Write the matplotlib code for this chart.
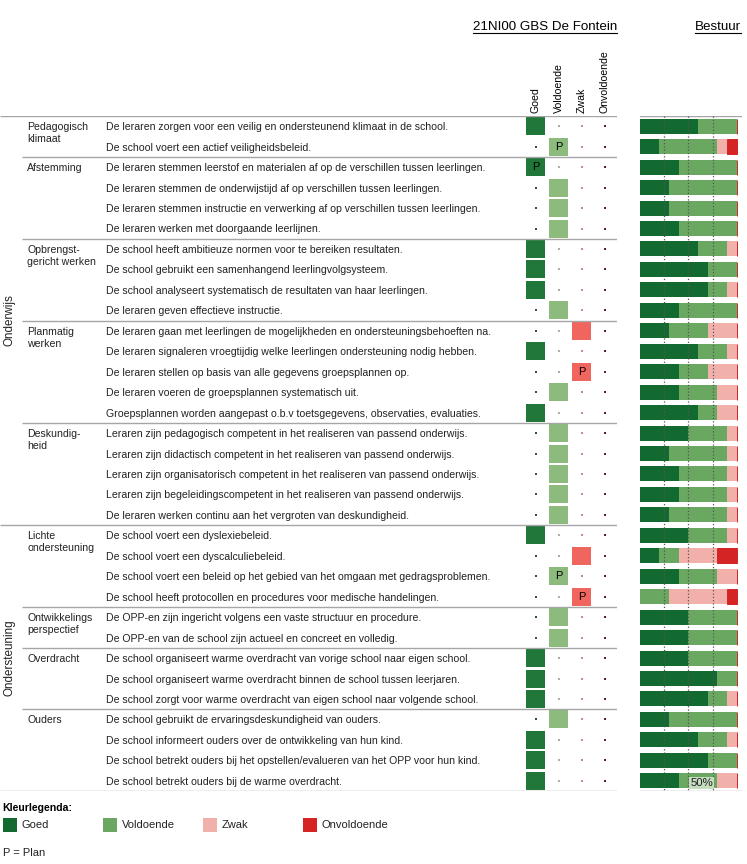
import numpy as np
import matplotlib.pyplot as plt
from matplotlib.patches import Rectangle
from matplotlib.lines import Line2D

plt.rcParams['font.family'] = ['Liberation Sans', 'DejaVu Sans']

# --- data ---
main_labels = ['Onderwijs', 'Ondersteuning']
main_counts = [20, 13]

sub_labels = ['Pedagogisch\nklimaat', 'Afstemming', 'Opbrengst-\ngericht werken', 'Planmatig\nwerken',
              'Deskundig-\nheid', 'Lichte\nondersteuning', 'Ontwikkelings\nperspectief', 'Overdracht', 'Ouders']
sub_counts = [2, 4, 4, 5, 5, 4, 2, 3, 4]

items = [
    'De leraren zorgen voor een veilig en ondersteunend klimaat in de school.',
    'De school voert een actief veiligheidsbeleid.',
    'De leraren stemmen leerstof en materialen af op de verschillen tussen leerlingen.',
    'De leraren stemmen de onderwijstijd af op verschillen tussen leerlingen.',
    'De leraren stemmen instructie en verwerking af op verschillen tussen leerlingen.',
    'De leraren werken met doorgaande leerlijnen.',
    'De school heeft ambitieuze normen voor te bereiken resultaten.',
    'De school gebruikt een samenhangend leerlingvolgsysteem.',
    'De school analyseert systematisch de resultaten van haar leerlingen.',
    'De leraren geven effectieve instructie.',
    'De leraren gaan met leerlingen de mogelijkheden en ondersteuningsbehoeften na.',
    'De leraren signaleren vroegtijdig welke leerlingen ondersteuning nodig hebben.',
    'De leraren stellen op basis van alle gegevens groepsplannen op.',
    'De leraren voeren de groepsplannen systematisch uit.',
    'Groepsplannen worden aangepast o.b.v toetsgegevens, observaties, evaluaties.',
    'Leraren zijn pedagogisch competent in het realiseren van passend onderwijs.',
    'Leraren zijn didactisch competent in het realiseren van passend onderwijs.',
    'Leraren zijn organisatorisch competent in het realiseren van passend onderwijs.',
    'Leraren zijn begeleidingscompetent in het realiseren van passend onderwijs.',
    'De leraren werken continu aan het vergroten van deskundigheid.',
    'De school voert een dyslexiebeleid.',
    'De school voert een dyscalculiebeleid.',
    'De school voert een beleid op het gebied van het omgaan met gedragsproblemen.',
    'De school heeft protocollen en procedures voor medische handelingen.',
    'De OPP-en zijn ingericht volgens een vaste structuur en procedure.',
    'De OPP-en van de school zijn actueel en concreet en volledig.',
    'De school organiseert warme overdracht van vorige school naar eigen school.',
    'De school organiseert warme overdracht binnen de school tussen leerjaren.',
    'De school zorgt voor warme overdracht van eigen school naar volgende school.',
    'De school gebruikt de ervaringsdeskundigheid van ouders.',
    'De school informeert ouders over de ontwikkeling van hun kind.',
    'De school betrekt ouders bij het opstellen/evalueren van het OPP voor hun kind.',
    'De school betrekt ouders bij de warme overdracht.',
]

ratings = ['Goed', 'Voldoende', 'Zwak', 'Onvoldoende']
# school score per item: 0=Goed 1=Voldoende 2=Zwak 3=Onvoldoende
school = [0, 1, 0, 1, 1, 1, 0, 0, 0, 1, 2, 0, 2, 1, 0, 1, 1, 1, 1, 1,
          0, 2, 1, 2, 1, 1, 0, 0, 0, 1, 0, 0, 0]
plan = [1, 2, 12, 22, 23]

# bestuur percentages per item
b_goed = [60, 20, 40, 30, 30, 40, 60, 70, 70, 40, 30, 60, 40, 40, 60, 50, 30, 40, 40, 30,
          50, 20, 40, 0, 50, 50, 50, 80, 70, 30, 60, 70, 40]
b_vold = [40, 60, 60, 70, 70, 60, 30, 30, 20, 60, 40, 30, 30, 40, 20, 40, 60, 50, 50, 60,
          40, 20, 40, 30, 50, 50, 50, 20, 20, 70, 30, 30, 40]
b_zwak = [0, 10, 0, 0, 0, 0, 10, 0, 10, 0, 30, 10, 30, 20, 20, 10, 10, 10, 10, 10,
          10, 40, 20, 60, 0, 0, 0, 0, 10, 0, 10, 0, 20]
b_onv = [0, 10, 0, 0, 0, 0, 0, 0, 0, 0, 0, 0, 0, 0, 0, 0, 0, 0, 0, 0,
         0, 20, 0, 10, 0, 0, 0, 0, 0, 0, 0, 0, 0]

bar_colors = ['#136a30', '#6aa862', '#f2b0aa', '#d42424']
cell_colors = ['#217639', '#8dbb7e', '#f0665e', '#d42424']
dot_colors = ['#34504a', '#a4b4a4', '#c08a9a', '#5e1e2a']

W, H = 747, 864
n = len(items)
rows = np.arange(n)
line_c = '#a6a6a6'
fs = 7.55
txt_c = '#222222'

fig = plt.figure(figsize=(W / 100, H / 100), dpi=100)

# --- school table ---
ax = fig.add_axes([0, 1 - 791 / H, 617 / W, (791 - 116) / H])
ax.set_xlim(0, 617)
ax.set_ylim(n - 0.5, -0.5)
ax.axis('off')
row_px = (791 - 116) / n

ax.hlines(-0.5, 0, 617, color=line_c, lw=1)
start = 0
for lab, cnt in zip(main_labels, main_counts):
    ax.text(10, start - 0.5 + cnt / 2, lab, rotation=90, ha='center', va='center', fontsize=8.4, color=txt_c)
    start += cnt
    ax.hlines(start - 0.5, 0, 617, color=line_c, lw=1)
main_ends = np.cumsum(main_counts)

start = 0
for lab, cnt in zip(sub_labels, sub_counts):
    for k, part in enumerate(lab.split('\n')):
        ax.text(27, start + k * 12 / row_px, part, ha='left', va='center_baseline', fontsize=fs, color=txt_c)
    start += cnt
    if start not in main_ends:
        ax.hlines(start - 0.5, 22, 617, color=line_c, lw=1)

for i, txt in enumerate(items):
    ax.text(106, i, txt, ha='left', va='center_baseline', fontsize=fs, color=txt_c)

col_x = [535.5, 558.5, 581.5, 604.5]
for i, s in enumerate(school):
    for c in range(4):
        if c == s:
            ax.add_patch(Rectangle((col_x[c] - 9.5, i - 0.44), 19, 0.88, facecolor=cell_colors[c], edgecolor='none'))
            if i in plan:
                ax.text(col_x[c], i, 'P', ha='center', va='center', fontsize=8, color='black')
        else:
            ax.scatter(col_x[c], i, marker='s', s=3, color=dot_colors[c], linewidths=0)

# --- bestuur bars ---
bx = fig.add_axes([640 / W, 1 - 791 / H, 102 / W, (791 - 116) / H])
bx.set_xlim(0, 100 * 102 / 96.7)
bx.set_ylim(n - 0.5, -0.5)
bx.axis('off')
left = np.zeros(n)
for vals, col in zip([b_goed, b_vold, b_zwak], bar_colors[:3]):
    bx.barh(rows, vals, left=left, height=0.73, color=col, linewidth=0)
    left += np.array(vals)
bx.barh(rows, b_onv, left=left, height=0.73, color=bar_colors[3], edgecolor=bar_colors[3], linewidth=0.7)
for p in [25, 50, 75]:
    bx.vlines(p, -0.5, n - 0.5, colors='#555555', linestyles=':', lw=0.9, zorder=3)
bx.axhline(-0.5, color=line_c, lw=1)
bx.axhline(n - 0.5, color=line_c, lw=1)
bx.text(52, n - 1 + 0.12, '50%', ha='left', va='center', fontsize=8.2, color=txt_c, zorder=4,
        bbox=dict(boxstyle='square,pad=0.1', facecolor='#c5dcbf', edgecolor='none'))

# --- headers ---
t1 = fig.text(473 / W, 1 - 30 / H, '21NI00 GBS De Fontein', ha='left', va='baseline', fontsize=9.6)
t2 = fig.text(741 / W, 1 - 30 / H, 'Bestuur', ha='right', va='baseline', fontsize=9.6)
for c, r in enumerate(ratings):
    fig.text(col_x[c] / W, 1 - 113 / H, r, rotation=90, ha='center', va='bottom', fontsize=fs)

fig.canvas.draw()
for t in (t1, t2):
    bb = t.get_window_extent().transformed(fig.transFigure.inverted())
    fig.add_artist(Line2D([bb.x0, bb.x1], [1 - 32.5 / H] * 2, color='black', lw=0.8))

# --- colour legend ---
fig.text(2 / W, 1 - 808 / H, 'Kleurlegenda:', ha='left', va='center', fontsize=fs, fontweight='bold')
for k, (lab, col) in enumerate(zip(ratings, bar_colors)):
    x0 = 3 + 100 * k
    fig.add_artist(Rectangle((x0 / W, 1 - 832 / H), 14 / W, 14 / H, facecolor=col, edgecolor='none',
                             transform=fig.transFigure))
    fig.text((x0 + 19) / W, 1 - 825 / H, lab, ha='left', va='center', fontsize=8, color=txt_c)
fig.text(3 / W, 1 - 853 / H, 'P = Plan', ha='left', va='center', fontsize=8, color=txt_c)

fig.savefig('out.png', dpi=100)
